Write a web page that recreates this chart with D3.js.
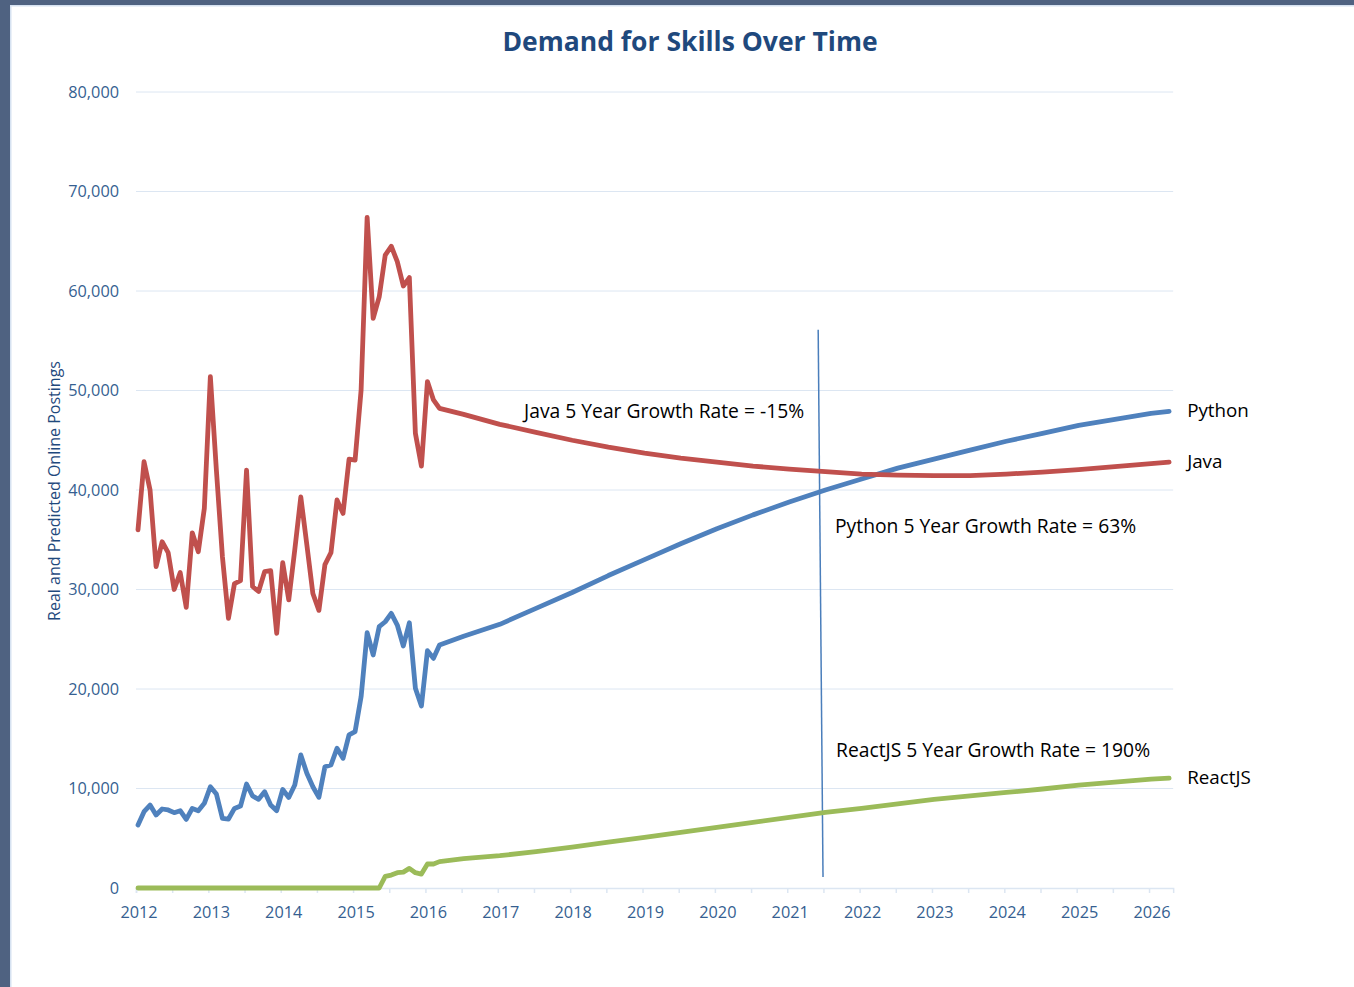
<!DOCTYPE html>
<html>
<head>
<meta charset="utf-8">
<script src="https://cdn.jsdelivr.net/npm/d3@7"></script>
<style>
  body { margin: 0; background: #fff; }
  svg text { font-family: "Open Sans", "Noto Sans", sans-serif; }
</style>
</head>
<body>
<div id="chart"></div>
<script>
// months counted from Jan 2012 (0) to Apr 2026 (171)
var realMonths = d3.range(0, 51);
var forecastMonths = [54, 60, 66, 72, 78, 84, 90, 96, 102, 108, 114, 120, 126, 132, 138, 144, 150, 156, 162, 168, 171];

var javaReal = [36000, 42850, 40000, 32300, 34800, 33700, 30000, 31700, 28200, 35700, 33800, 38150,
  51400, 42000, 33300, 27100, 30600, 30900, 42000, 30300, 29800, 31800, 31900, 25600,
  32700, 28950, 34000, 39300, 34500, 29600, 27900, 32500, 33700, 39000, 37650, 43100,
  43000, 50050, 67400, 57250, 59400, 63600, 64500, 62950, 60500, 61350, 45700, 42400,
  50900, 49050, 48200];
var pythonReal = [6330, 7670, 8340, 7340, 7940, 7840, 7570, 7770, 6900, 8000, 7770, 8510,
  10180, 9450, 7000, 6930, 8000, 8240, 10450, 9250, 8910, 9680, 8340, 7770,
  9900, 9100, 10350, 13370, 11530, 10180, 9110, 12190, 12360, 14040, 13030, 15380,
  15710, 19230, 25660, 23420, 26260, 26760, 27600, 26430, 24320, 26660, 20070, 18290,
  23850, 23080, 24420];
var reactReal = [0, 0, 0, 0, 0, 0, 0, 0, 0, 0, 0, 0,
  0, 0, 0, 0, 0, 0, 0, 0, 0, 0, 0, 0,
  0, 0, 0, 0, 0, 0, 0, 0, 0, 0, 0, 0,
  0, 0, 0, 0, 0, 1170, 1300, 1540, 1600, 1970, 1540, 1400,
  2410, 2410, 2650];

var javaForecast = [47600, 46600, 45800, 45000, 44300, 43700, 43200, 42800, 42400, 42100, 41850,
  41600, 41500, 41450, 41450, 41600, 41800, 42050, 42350, 42650, 42800];
var pythonForecast = [25300, 26500, 28100, 29700, 31400, 33000, 34600, 36100, 37500, 38800, 40000,
  41100, 42200, 43100, 44000, 44900, 45700, 46500, 47100, 47700, 47900];
var reactForecast = [2950, 3250, 3650, 4100, 4600, 5100, 5600, 6100, 6600, 7100, 7600,
  8000, 8450, 8900, 9250, 9600, 9950, 10350, 10650, 10950, 11050];

var seriesNames = ["Python", "Java", "ReactJS"];
var colors = ["#4f81bd", "#c0504d", "#9bbb59"];
var yearLabels = d3.range(2012, 2027);
var yTicks = [0, 10000, 20000, 30000, 40000, 50000, 60000, 70000, 80000];

var annotations = [
  { text: "Java 5 Year Growth Rate = -15%", x: 524, y: 411 },
  { text: "Python 5 Year Growth Rate = 63%", x: 835, y: 526 },
  { text: "ReactJS 5 Year Growth Rate = 190%", x: 836, y: 750 }
];
// the vertical marker line (month, value) at both ends
var marker = [[112.8, 56100], [113.6, 1100]];

var W = 1354, H = 987;
var navy = "#1f497d", tickColor = "#365f91", gridColor = "#dce6f2";

var svg = d3.select("#chart").append("svg")
  .attr("width", W)
  .attr("height", H);

// frame
svg.append("rect").attr("x", 0).attr("y", 0).attr("width", W).attr("height", 5).attr("fill", "#4f6281");
svg.append("rect").attr("x", 0).attr("y", 0).attr("width", 10).attr("height", H).attr("fill", "#4f6281");
svg.append("rect").attr("x", 10).attr("y", 5).attr("width", 1.5).attr("height", H - 5).attr("fill", "#d6e2f1");
svg.append("rect").attr("x", 10).attr("y", 5).attr("width", W - 10).attr("height", 1.5).attr("fill", "#d6e2f1");

var x = d3.scaleLinear().domain([0, 172]).range([138, 138 + 6.03 * 172]);
var y = d3.scaleLinear().domain([0, 80000]).range([888, 92]);
var tickShift = -2;

// gridlines
svg.append("g").selectAll("line")
  .data(yTicks.slice(1))
  .enter().append("line")
  .attr("x1", x(0) + tickShift).attr("x2", x(172) + tickShift)
  .attr("y1", function(d) { return y(d); })
  .attr("y2", function(d) { return y(d); })
  .attr("stroke", gridColor).attr("stroke-width", 1);

// y labels
svg.append("g").selectAll("text")
  .data(yTicks)
  .enter().append("text")
  .attr("x", 119)
  .attr("y", function(d) { return y(d); })
  .attr("dy", "0.35em")
  .attr("text-anchor", "end")
  .attr("fill", tickColor)
  .style("font-size", "16.3px")
  .text(function(d) { return d3.format(",")(d); });

// x axis
var xAxis = d3.axisBottom(x)
  .tickValues(d3.range(0, 169, 6))
  .tickSize(5)
  .tickFormat("");
var gx = svg.append("g")
  .attr("transform", "translate(" + tickShift + "," + y(0) + ")")
  .call(xAxis);
gx.select(".domain").attr("stroke", gridColor).attr("stroke-width", 1.5);
gx.selectAll(".tick line").attr("stroke", gridColor).attr("stroke-width", 1.5);

svg.append("g").selectAll("text")
  .data(yearLabels)
  .enter().append("text")
  .attr("x", function(d) { return x((d - 2012) * 12) + 1; })
  .attr("y", 912)
  .attr("dy", "0.35em")
  .attr("text-anchor", "middle")
  .attr("fill", tickColor)
  .style("font-size", "16.3px")
  .text(function(d) { return d; });

// title and axis label
svg.append("text")
  .attr("x", 690).attr("y", 42)
  .attr("dy", "0.35em")
  .attr("text-anchor", "middle")
  .attr("fill", navy)
  .style("font-size", "26.5px")
  .style("font-weight", "bold")
  .text("Demand for Skills Over Time");

svg.append("text")
  .attr("transform", "translate(54,491) rotate(-90)")
  .attr("dy", "0.35em")
  .attr("text-anchor", "middle")
  .attr("fill", navy)
  .style("font-size", "16px")
  .text("Real and Predicted Online Postings");

// series
function joinSeries(real, fc) {
  return realMonths.map(function(m, i) { return [m, real[i]]; })
    .concat(forecastMonths.map(function(m, i) { return [m, fc[i]]; }));
}
var series = [
  joinSeries(pythonReal, pythonForecast),
  joinSeries(javaReal, javaForecast),
  joinSeries(reactReal, reactForecast)
];
var drawOrder = [2, 0, 1];

var line = d3.line()
  .x(function(d) { return x(d[0]); })
  .y(function(d) { return y(d[1]); });

// marker line
svg.append("line")
  .attr("x1", x(marker[0][0])).attr("y1", y(marker[0][1]))
  .attr("x2", x(marker[1][0])).attr("y2", y(marker[1][1]))
  .attr("stroke", "#4a7ebb").attr("stroke-width", 1.5);

svg.append("g").selectAll("path")
  .data(drawOrder)
  .enter().append("path")
  .attr("d", function(i) { return line(series[i]); })
  .attr("fill", "none")
  .attr("stroke", function(i) { return colors[i]; })
  .attr("stroke-width", 4.8)
  .attr("stroke-linejoin", "round")
  .attr("stroke-linecap", "round");

// end labels
svg.append("g").selectAll("text")
  .data(seriesNames)
  .enter().append("text")
  .attr("x", function(d, i) { var s = series[i]; return x(s[s.length - 1][0]) + 18; })
  .attr("y", function(d, i) { var s = series[i]; return y(s[s.length - 1][1]) - 1; })
  .attr("dy", "0.35em")
  .attr("fill", "#000")
  .style("font-size", "18.8px")
  .text(function(d) { return d; });

// growth annotations
svg.append("g").selectAll("text")
  .data(annotations)
  .enter().append("text")
  .attr("x", function(d) { return d.x; })
  .attr("y", function(d) { return d.y; })
  .attr("dy", "0.35em")
  .attr("fill", "#000")
  .style("font-size", "19.3px")
  .text(function(d) { return d.text; });
</script>
</body>
</html>
